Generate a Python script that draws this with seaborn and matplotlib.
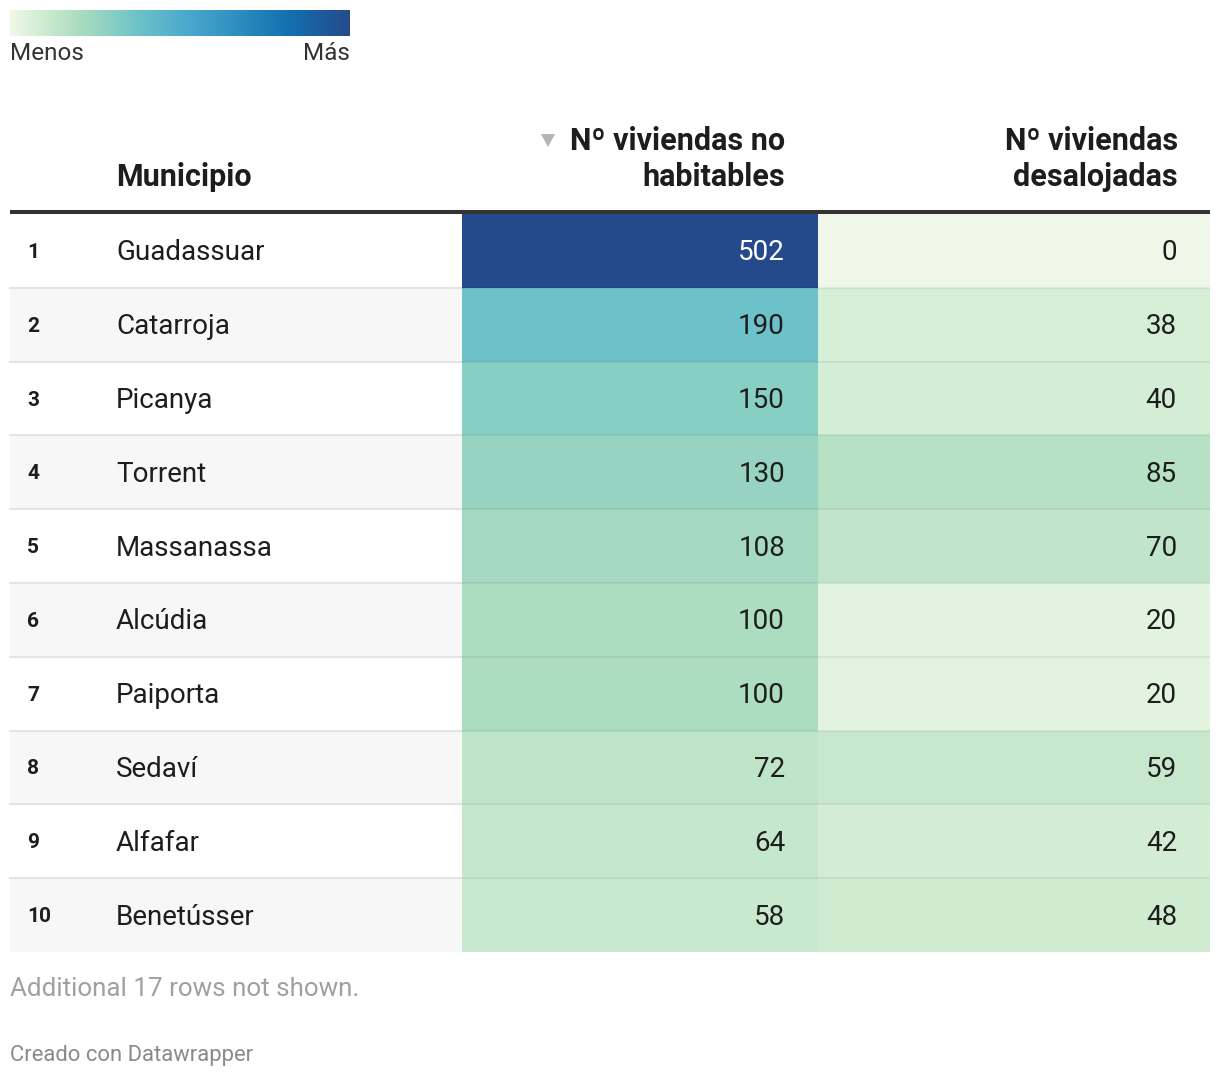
import numpy as np
import pandas as pd
import matplotlib
matplotlib.use("Agg")
import matplotlib.pyplot as plt
import seaborn as sns
from matplotlib.colors import LinearSegmentedColormap, Normalize
from matplotlib.cm import ScalarMappable
from matplotlib.patches import Rectangle, Polygon

# ---------------- data ----------------
ranks = list(range(1, 11))
municipios = ["Guadassuar", "Catarroja", "Picanya", "Torrent", "Massanassa",
              "Alcúdia", "Paiporta", "Sedaví", "Alfafar", "Benetússer"]
no_habitables = [502, 190, 150, 130, 108, 100, 100, 72, 64, 58]
desalojadas = [0, 38, 40, 85, 70, 20, 20, 59, 42, 48]
name_header = "Municipio"
col_headers = [["Nº viviendas no", "habitables"], ["Nº viviendas", "desalojadas"]]
legend_labels = ["Menos", "Más"]
note = "Additional 17 rows not shown."
credit = "Creado con Datawrapper"

# ---------------- style ----------------
sns.set_theme(style="white")
plt.rcParams["font.family"] = ["Roboto", "DejaVu Sans"]

cmap = LinearSegmentedColormap.from_list("dw", [
    (0.00, "#eff8e8"), (0.10, "#cdebd0"), (0.20, "#acdcbf"), (0.30, "#87cfc3"),
    (0.38, "#6bc1c8"), (0.52, "#4aa9cd"), (0.68, "#2b8cbe"), (0.82, "#1270b0"),
    (1.00, "#254a8b")])
vmax = max(max(no_habitables), max(desalojadas))
norm = Normalize(vmin=0, vmax=vmax)

W, H = 1220, 1078
fig = plt.figure(figsize=(W / 100, H / 100), dpi=100)
fig.patch.set_facecolor("white")


def px_axes(x0, y0, x1, y1, **kw):
    return fig.add_axes([x0 / W, 1 - y1 / H, (x1 - x0) / W, (y1 - y0) / H], **kw)


# background / text layer
bg = px_axes(0, 0, W, H)
bg.set_xlim(0, W)
bg.set_ylim(H, 0)
bg.axis("off")

L, R = 10, 1210
C1L, C1R, C2R = 462, 818, 1210
TOP, BOT = 214, 952
n = len(municipios)
rh = (BOT - TOP) / n

TXT = "#1d1d1d"
NAME_FS = 20
HEAD_FS = 22

# zebra stripes & separators in the left part
for i in range(n):
    y0 = TOP + i * rh
    if i % 2 == 1:
        bg.add_patch(Rectangle((L, y0), C1L - L, rh, color="#f7f7f7", lw=0, zorder=0))
    if i > 0:
        bg.plot([L, C1L], [y0, y0], color="#e4e4e4", lw=1.5, zorder=1)

# header rule
bg.plot([L, R], [212, 212], color="#333333", lw=2.9, solid_capstyle="butt", zorder=3)

# rank & name text
for i, (rk, nm) in enumerate(zip(ranks, municipios)):
    yc = TOP + (i + 0.5) * rh
    bg.text(27, yc + 7, str(rk), ha="left", va="baseline", fontsize=15,
            fontweight="bold", color=TXT)
    bg.text(116, yc + 9.5, nm, ha="left", va="baseline", fontsize=NAME_FS, color=TXT)

# headers
bg.text(116, 186, name_header, ha="left", va="baseline", fontsize=HEAD_FS,
        fontweight="bold", color=TXT)
for xr, lines in zip([785, 1178], col_headers):
    bg.text(xr, 150, lines[0], ha="right", va="baseline", fontsize=HEAD_FS,
            fontweight="bold", color=TXT)
    bg.text(xr, 186, lines[1], ha="right", va="baseline", fontsize=HEAD_FS,
            fontweight="bold", color=TXT)
bg.add_patch(Polygon([(541, 134), (555, 134), (548, 147)], closed=True,
                     color="#b5b5b5", lw=0))

# footer
bg.text(L, 996, note, ha="left", va="baseline", fontsize=18.7, color="#a0a0a0")
bg.text(L, 1061, credit, ha="left", va="baseline", fontsize=15.8, color="#8a8a8a")

# legend text
bg.text(L, 60, legend_labels[0], ha="left", va="baseline", fontsize=17.5, color="#333333")
bg.text(350, 60, legend_labels[1], ha="right", va="baseline", fontsize=17.5, color="#333333")

# ---------------- heatmap columns ----------------
df = pd.DataFrame({"no_habitables": no_habitables, "desalojadas": desalojadas},
                  index=municipios)

for col, (x0, x1) in zip(df.columns, [(C1L, C1R), (C1R, C2R)]):
    ax = px_axes(x0, TOP, x1, BOT)
    sns.heatmap(df[[col]], ax=ax, cmap=cmap, norm=norm, cbar=False,
                xticklabels=False, yticklabels=False, linewidths=0)
    ax.set_xlabel("")
    ax.set_ylabel("")
    for i in range(1, n):
        ax.axhline(i, color="black", alpha=0.06, lw=1.5)
    xpos = 1 - 33 / (x1 - x0)
    for i, v in enumerate(df[col]):
        r, g, b, _ = cmap(norm(v))
        lum = 0.299 * r + 0.587 * g + 0.114 * b
        ax.text(xpos, i + 0.5 + 9.5 / rh, f"{v}", ha="right", va="baseline",
                fontsize=NAME_FS, color="white" if lum < 0.5 else TXT)

# ---------------- colour legend ----------------
cax = px_axes(10, 10, 350, 36)
cb = fig.colorbar(ScalarMappable(norm=norm, cmap=cmap), cax=cax, orientation="horizontal")
cb.outline.set_visible(False)
cax.set_xticks([])
cax.set_yticks([])

fig.savefig("out.png", dpi=100, facecolor="white")
